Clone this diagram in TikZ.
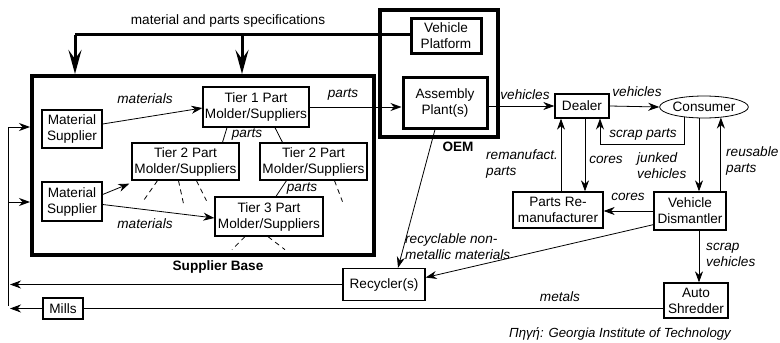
\documentclass[tikz,border=0pt]{standalone}
\usepackage{fontspec}
\setmainfont{Liberation Sans}
\usetikzlibrary{arrows.meta,shapes.geometric,calc}
\begin{document}
\begin{tikzpicture}[x=1pt,y=-1pt,
  every node/.style={font=\fontsize{13.6}{16}\selectfont},
  box/.style={draw,line width=1.3pt,align=center,inner sep=0pt},
  tbox/.style={draw,line width=3pt,align=center,inner sep=0pt},
  frame/.style={draw,line width=4pt,inner sep=0pt},
  arr/.style={line width=0.8pt,-{Stealth[length=11pt,width=8pt,inset=3.5pt]}},
  ln/.style={line width=0.8pt},
  dsh/.style={line width=0.8pt,dash pattern=on 5pt off 4pt},
  spec/.style={line width=3pt},
  speca/.style={line width=3pt,-{Stealth[length=24pt,width=13pt,inset=9pt]}},
  lbl/.style={font=\fontsize{13.6}{16}\selectfont\itshape,inner sep=1pt,align=left},
  bl/.style={font=\fontsize{13.6}{16}\selectfont\bfseries,inner sep=1pt}]
\useasboundingbox (0,0) rectangle (780,343);
% frames
\node[frame,minimum width=342,minimum height=179] (sb) at (203,165.5) {};
\node[frame,minimum width=118,minimum height=127] (oem) at (439,73.5) {};
% nodes
\node[box,minimum width=60,minimum height=38] (ms1) at (72,129) {Material\\Supplier};
\node[box,minimum width=106,minimum height=40] (t1) at (256,107) {Tier 1 Part\\Molder/Suppliers};
\node[box,minimum width=107,minimum height=37] (t2a) at (185.5,161.5) {Tier 2 Part\\Molder/Suppliers};
\node[box,minimum width=107,minimum height=37] (t2b) at (313.5,161.5) {Tier 2 Part\\Molder/Suppliers};
\node[box,minimum width=60,minimum height=39] (ms2) at (72,201.5) {Material\\Supplier};
\node[box,minimum width=108,minimum height=39] (t3) at (269,216.5) {Tier 3 Part\\Molder/Suppliers};
\node[tbox,minimum width=70,minimum height=35] (vp) at (446,35.5) {Vehicle\\Platform};
\node[tbox,minimum width=84,minimum height=51] (ap) at (445,102.5) {Assembly\\Plant(s)};
\node[box,minimum width=54,minimum height=24] (dealer) at (582,106) {Dealer};
\node[draw,ellipse,line width=0.8pt,minimum width=78,minimum height=22,inner sep=0pt] (cons) at (704,107) {Consumer};
\node[box,minimum width=90,minimum height=36] (prm) at (558,210) {Parts Re-\\manufacturer};
\node[box,minimum width=72,minimum height=38] (vd) at (690,211) {Vehicle\\Dismantler};
\node[box,minimum width=82,minimum height=32] (rec) at (384,284.5) {Recycler(s)};
\node[box,minimum width=64,minimum height=35] (shr) at (696,300.5) {Auto\\Shredder};
\node[box,minimum width=40,minimum height=21] (mills) at (63,308.5) {Mills};
% specifications
\coordinate (s1) at (75,34.5);
\coordinate (s2) at (242,34.5);
\draw[spec] (vp.west |- s1) -- (s1);
\draw[speca] (s1) -- (s1 |- sb.north);
\draw[speca] (s2) -- (s2 |- sb.north);
\node[inner sep=1pt] (spt) at (228,21) {material and parts specifications};
% supplier base internals
\draw[arr] ([yshift=5pt]ms1.east) -- ([yshift=-1pt]t1.west);
\node[lbl] (l1) at (145,99) {materials};
\draw[arr] (t1.east) -- (t1.east -| ap.west);
\node[lbl] (l2) at (343,95) {parts};
\draw[ln] ([xshift=-29pt]t1.south) -- ([xshift=37pt]t2a.north);
\draw[ln] ([xshift=19pt]t1.south) -- ([xshift=-31pt]t2b.north);
\node[lbl] (l3) at (247,135) {parts};
\draw[dsh] ([xshift=-28pt]t2a.south) -- +(-14,20);
\draw[dsh] ([xshift=-7pt]t2a.south) -- +(5,23);
\draw[dsh] ([xshift=11pt]t2a.south) -- +(10,20);
\draw[ln] ([xshift=-27pt]t2b.south) -- ([xshift=7pt]t3.north);
\node[lbl] (l4) at (302,189) {parts};
\draw[dsh] ([xshift=21pt]t2b.south) -- +(8,21);
\draw[dsh] ([xshift=-24pt]t3.south) -- +(-13,13);
\draw[dsh] ([xshift=-1pt]t3.south) -- +(17,13);
\draw[arr] ([yshift=7pt]ms2.east) -- ([xshift=-2pt,yshift=-3pt]t2a.south west);
\draw[arr] ([yshift=-3pt]ms2.east) -- ([yshift=-1.5pt]t3.west);
\node[lbl] (l5) at (145,224) {materials};
\node[bl] (sbl) at (218,267) {Supplier Base};
\node[bl] (oeml) at (458,147) {OEM};
% left return lines
\coordinate (vtop) at (8,127);
\coordinate (vmid) at (8,202);
\coordinate (vbot) at (8,306);
\draw[ln] (vtop) -- (vbot);
\draw[arr] (vtop) -- (vtop -| sb.west);
\draw[arr] (vmid) -- (vmid -| sb.west);
\draw[arr] (rec.west) -- ($(rec.west -| vtop)+(2,0)$);
\draw[arr] (mills.west) -- ($(mills.west -| vtop)+(2,0)$);
\draw[ln] (mills.east) -- (mills.east -| shr.west);
\node[lbl] (l6) at (560,297) {metals};
% OEM to dealer etc
\draw[arr] (ap.east |- dealer.west) -- (dealer.west);
\node[lbl] (l7) at (525,95) {vehicles};
\draw[arr] (dealer.east) -- (cons.west);
\node[lbl] (l8) at (637,92) {vehicles};
\draw[arr] (cons.207) |- (600,144) -- (600,118.5);
\node[lbl] (l9) at (643,135) {scrap parts};
\draw[arr] ([xshift=3pt]dealer.south) -- ([xshift=3pt]dealer.south |- prm.north);
\node[lbl] (l10) at (606,160) {cores};
\draw[arr] ([xshift=-21pt]dealer.south |- prm.north) -- ([xshift=-21pt]dealer.south);
\node[lbl,anchor=west] (l11) at (485,164) {remanufact.\\parts};
\draw[arr] ([xshift=-5pt]cons.south) -- ([xshift=-5pt]cons.south |- vd.north);
\node[lbl,anchor=west] (l12) at (636,166) {junked\\vehicles};
\draw[arr] (cons.328 |- vd.north) -- (cons.328);
\node[lbl,anchor=west] (l13) at (725,161) {reusable\\parts};
\draw[arr] (vd.west) -- (vd.west -| prm.east);
\node[lbl] (l14) at (628,197) {cores};
\draw[arr] ([yshift=6pt]vd.south west) -- ([yshift=7pt]rec.east);
\draw[arr] ([xshift=-10pt]ap.south) -- ([xshift=14pt]rec.north);
\node[lbl,anchor=west] (l15) at (404,246.5) {recyclable non-\\metallic materials};
\draw[arr] ([xshift=-5pt]cons.south |- vd.south) -- ([xshift=-5pt]cons.south |- shr.north);
\node[lbl,anchor=west] (l16) at (705,255) {scrap\\vehicles};
\node[font=\fontsize{13.2}{15}\selectfont\itshape,inner sep=1pt] (src) at (620,334) {Πηγή: Georgia Institute of Technology};
\end{tikzpicture}
\end{document}
